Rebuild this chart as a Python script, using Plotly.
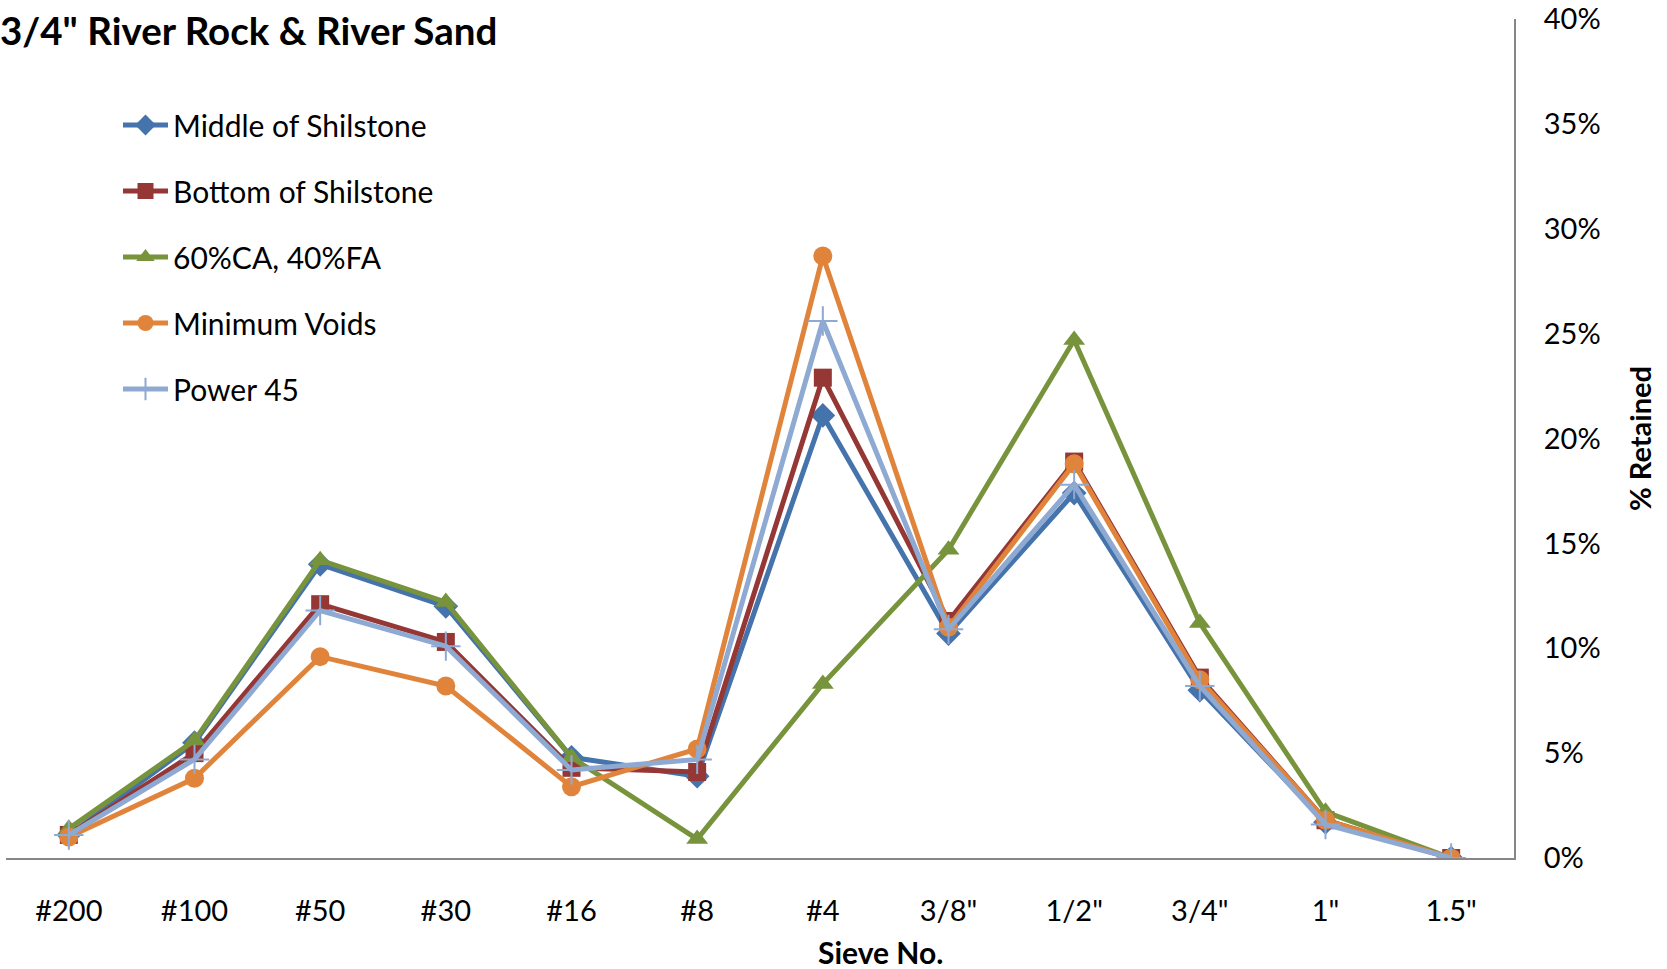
import plotly.graph_objects as go

sieves = ["#200", "#100", "#50", "#30", "#16", "#8", "#4", "3/8\"", "1/2\"", "3/4\"", "1\"", "1.5\""]

middle_shilstone = [1.1, 5.5, 14.0, 12.0, 4.8, 3.9, 21.1, 10.7, 17.4, 8.0, 1.7, 0.0]
bottom_shilstone = [1.1, 5.0, 12.1, 10.3, 4.3, 4.1, 22.9, 11.3, 18.9, 8.6, 1.8, 0.0]
ca60_fa40 = [1.4, 5.6, 14.2, 12.2, 4.8, 0.9, 8.3, 14.7, 24.7, 11.2, 2.2, 0.0]
minimum_voids = [1.0, 3.8, 9.6, 8.2, 3.4, 5.2, 28.7, 11.0, 18.8, 8.5, 1.8, 0.0]
power_45 = [1.1, 4.7, 11.8, 10.1, 4.2, 4.7, 25.6, 10.9, 17.8, 8.2, 1.6, 0.0]

series = [
    ("Middle of Shilstone", middle_shilstone, "#4573AB", "diamond", 19),
    ("Bottom of Shilstone", bottom_shilstone, "#943735", "square", 18),
    ("60%CA, 40%FA", ca60_fa40, "#77933C", "triangle-up", 19),
    ("Minimum Voids", minimum_voids, "#E0843C", "circle", 19),
    ("Power 45", power_45, "#8EA9D2", "cross-thin", 21),
]

FONT = "Lato, 'Liberation Sans', sans-serif"

fig = go.Figure()
for i, (name, vals, color, sym, size) in enumerate(series):
    marker = dict(symbol=sym, size=size, color=color)
    if sym == "cross-thin":
        marker["line"] = dict(color=color, width=2)
    fig.add_trace(go.Scatter(
        x=sieves, y=[v / 100 for v in vals], name=name, mode="lines+markers",
        line=dict(color=color, width=5), marker=marker, legendgroup=f"g{i}",
    ))

L, R, T, B = 6, 153, 19, 111
W = 1667 - L - R
H = 969 - T - B

fig.update_layout(
    width=1667, height=969,
    margin=dict(l=L, r=R, t=T, b=B, autoexpand=False),
    paper_bgcolor="white", plot_bgcolor="white",
    font=dict(family=FONT, size=29, color="black"),
    showlegend=True,
    legend=dict(
        x=(118 - L) / W, y=(858 - 99) / H, xanchor="left", yanchor="top",
        font=dict(family=FONT, size=30, color="black"),
        tracegroupgap=24, itemwidth=45, bgcolor="rgba(0,0,0,0)",
    ),
    xaxis=dict(
        type="category", showgrid=False, showline=True, linecolor="#868686", linewidth=2,
        ticks="", tickfont=dict(family=FONT, size=29, color="black"),
        ticklabelstandoff=26, range=[-0.5, 11.5], zeroline=False,
    ),
    yaxis=dict(
        side="right", range=[0, 0.40], dtick=0.05, tickformat=".0%",
        showgrid=False, showline=True, linecolor="#868686", linewidth=2,
        ticks="", tickfont=dict(family=FONT, size=29, color="black"),
        ticklabelstandoff=22, zeroline=False,
    ),
    annotations=[
        dict(text="<b>3/4\" River Rock &amp; River Sand</b>", xref="paper", yref="paper",
             x=(499 - L) / W, y=(858 - 30) / H, xanchor="right", yanchor="middle",
             showarrow=False, font=dict(family=FONT, size=38.5, color="black")),
        dict(text="<b>Sieve No.</b>", xref="paper", yref="paper",
             x=(880 - L) / W, y=(858 - 952) / H, xanchor="center", yanchor="middle",
             showarrow=False, font=dict(family=FONT, size=30, color="black")),
        dict(text="<b>% Retained</b>", xref="paper", yref="paper",
             x=(1640 - L) / W, y=(858 - 438) / H, xanchor="center", yanchor="middle",
             textangle=-90, showarrow=False, font=dict(family=FONT, size=29, color="black")),
    ],
)

fig.write_html("out.html")
